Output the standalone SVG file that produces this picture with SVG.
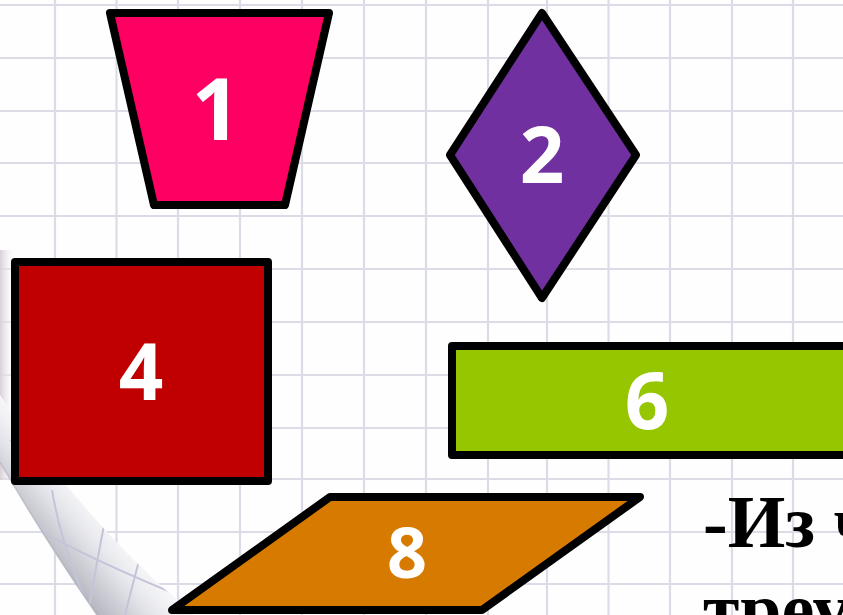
<svg xmlns="http://www.w3.org/2000/svg" width="843" height="615" viewBox="0 0 843 615">
<defs>
<style>
.grid line{stroke:#dcdce6;stroke-width:2.2}
.curlgrid path{stroke:#c3c4d8;stroke-width:2;fill:none}
.shape{stroke:#000;stroke-width:8;stroke-linejoin:round}
.num{font-family:"Open Sans","Noto Sans","DejaVu Sans",sans-serif;font-weight:700;fill:#fff;text-anchor:middle}
.txt{font-family:"Liberation Serif","Times New Roman",serif;font-weight:700;fill:#000;font-size:74px}
</style>
<linearGradient id="curlGrad" gradientUnits="userSpaceOnUse" x1="50" y1="560" x2="120" y2="500">
<stop offset="0" stop-color="#b4b5be"/>
<stop offset="0.4" stop-color="#dfe0e6"/>
<stop offset="1" stop-color="#ffffff" stop-opacity="0"/>
</linearGradient>
<linearGradient id="edgeGrad" x1="0" y1="0" x2="1" y2="0">
<stop offset="0" stop-color="#d8d0d8"/>
<stop offset="1" stop-color="#ffffff" stop-opacity="0"/>
</linearGradient>
<clipPath id="curlClip">
<path d="M0,462 Q45,540 97,615 L195,615 Q90,530 0,395 Z"/>
</clipPath>
</defs>
<rect width="843" height="615" fill="#fefefe"/>
<g class="grid">
<line x1="55" y1="0" x2="55" y2="615"/>
<line x1="116.5" y1="0" x2="116.5" y2="615"/>
<line x1="178" y1="0" x2="178" y2="615"/>
<line x1="240" y1="0" x2="240" y2="615"/>
<line x1="302" y1="0" x2="302" y2="615"/>
<line x1="364" y1="0" x2="364" y2="615"/>
<line x1="426" y1="0" x2="426" y2="615"/>
<line x1="488" y1="0" x2="488" y2="615"/>
<line x1="547" y1="0" x2="547" y2="615"/>
<line x1="608.5" y1="0" x2="608.5" y2="615"/>
<line x1="670" y1="0" x2="670" y2="615"/>
<line x1="732" y1="0" x2="732" y2="615"/>
<line x1="793" y1="0" x2="793" y2="615"/>
<line x1="0" y1="5" x2="843" y2="5"/>
<line x1="0" y1="58" x2="843" y2="58"/>
<line x1="0" y1="111" x2="843" y2="111"/>
<line x1="0" y1="163" x2="843" y2="163"/>
<line x1="0" y1="216" x2="843" y2="216"/>
<line x1="0" y1="269" x2="843" y2="269"/>
<line x1="0" y1="322" x2="843" y2="322"/>
<line x1="0" y1="375" x2="843" y2="375"/>
<line x1="0" y1="428" x2="843" y2="428"/>
<line x1="0" y1="479" x2="843" y2="479"/>
<line x1="0" y1="532" x2="843" y2="532"/>
<line x1="0" y1="584" x2="843" y2="584"/>
</g>
<g id="curl">
<rect x="0" y="250" width="16" height="230" fill="url(#edgeGrad)"/>
<path d="M0,462 Q45,540 97,615 L195,615 Q90,530 0,395 Z" fill="#f9f9fb"/>
<path d="M0,462 Q45,540 97,615 L195,615 Q90,530 0,395 Z" fill="url(#curlGrad)"/>
<g class="curlgrid" clip-path="url(#curlClip)">
<path d="M52,490 Q62,550 92,615"/>
<path d="M108,505 Q96,565 88,615"/>
<path d="M150,520 Q135,575 125,615"/>
<path d="M10,440 Q80,490 160,540"/>
<path d="M20,520 Q90,560 190,600"/>
</g>
<path d="M0,462 Q45,540 97,615" fill="none" stroke="#a0a1ad" stroke-width="1.5" opacity="0.5"/>
</g>
<g id="node1">
<polygon class="shape" points="110,13 329,13 285,205 154,205" fill="#fe0061"/>
<text class="num" x="216" y="140" font-size="86">1</text>
</g>
<g id="node2">
<polygon class="shape" points="542,13 636,155 542,298 450,155" fill="#7030a0"/>
<text class="num" x="542" y="183" font-size="78">2</text>
</g>
<g id="node4">
<rect class="shape" x="15" y="262" width="253" height="219" fill="#c00000"/>
<text class="num" x="141" y="400" font-size="78">4</text>
</g>
<g id="node6">
<rect class="shape" x="452" y="346" width="420" height="109" fill="#95c600"/>
<text class="num" x="647" y="429" font-size="78">6</text>
</g>
<g id="node8">
<polygon class="shape" points="330,497 640,497 482,610 172,610" fill="#d77b00"/>
<text class="num" x="407" y="578" font-size="70">8</text>
</g>
<g id="connectors"/>
<g id="caption">
<text class="txt" x="703" y="547">-Из ч</text>
<text class="txt" x="703" y="634">треу</text>
</g>
</svg>
